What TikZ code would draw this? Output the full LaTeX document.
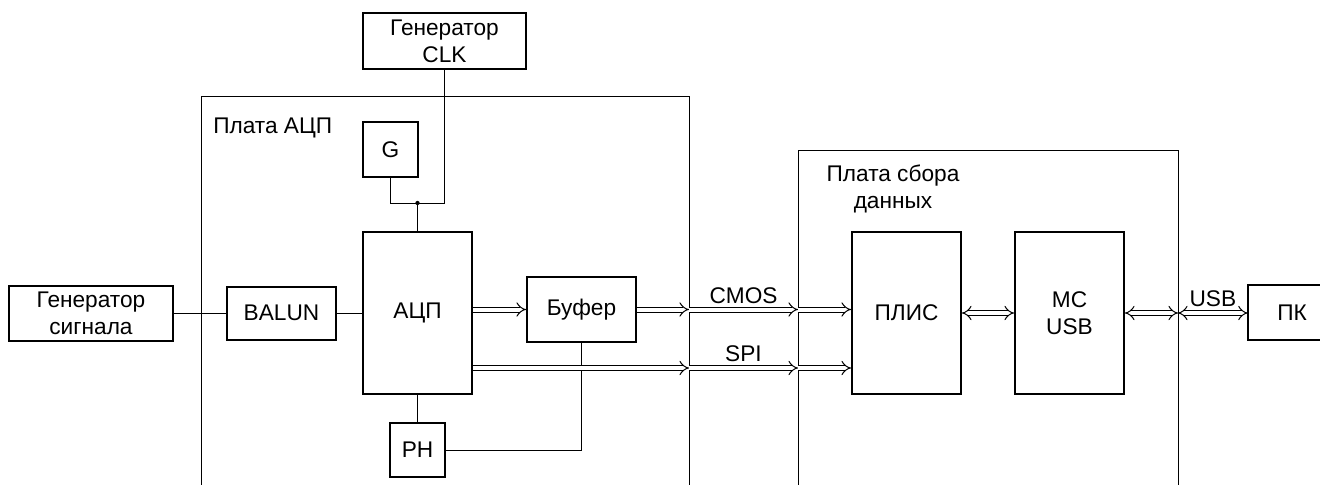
\documentclass[tikz,border=0pt]{standalone}
\usepackage{fontspec}
\setmainfont{Liberation Sans}
\usepackage{tikz}
\usetikzlibrary{arrows.meta}

\begin{document}
\begin{tikzpicture}[x=0.75pt, y=-0.75pt,
 font=\fontsize{17}{20}\selectfont,
 block/.style={draw, line width=1.5pt, align=center, inner sep=0pt,
   minimum width=81.75pt, minimum height=41.25pt},
 wire/.style={line width=0.75pt},
 bus/.style={line width=0.75pt, double, double distance=3pt, -{Implies}},
 bibus/.style={bus, {Implies}-{Implies}}]

  \useasboundingbox (0,0) rectangle (1320,485);

  % boards
  \draw[wire] (201,485) -- (201,96) -- (689,96) -- (689,485);
  \node[anchor=west, inner sep=0pt] (adcboard) at (213,128) {Плата АЦП};
  \draw[wire] (798,485) -- (798,150) -- (1178,150) -- (1178,485);
  \node[align=center, inner sep=0pt] (daqboard) at (893,189) {Плата сбора\\данных};

  \node[block, minimum width=123pt] (gensig) at (91,313) {Генератор\\сигнала};
  \node[block, minimum height=39.75pt] (balun) at (281.5,313) {BALUN};
  \node[block, minimum height=121.5pt] (adc) at (417.5,313) {АЦП};
  \node[block, minimum height=48.75pt] (buf) at (581.5,309.5) {Буфер};
  \node[block, minimum width=122.25pt, minimum height=42pt] (clk) at (444.5,41) {Генератор\\CLK};
  \node[block, minimum width=41.25pt] (g) at (390.5,149.5) {G};
  \node[block, minimum width=41.25pt, minimum height=40.5pt] (ph) at (417.5,450) {РН};
  \node[block, minimum height=121.5pt] (plis) at (906.5,313) {ПЛИС};
  \node[block, minimum height=121.5pt] (mcu) at (1069.5,313) {МС\\USB};
  \node[minimum width=66pt, minimum height=41.25pt, inner sep=0pt] (pk) at (1292,312.5) {ПК};
  \draw[line width=1.5pt] (pk.north east) -- (pk.north west) -- (pk.south west) -- (pk.south east);

  \coordinate (clkjoin) at (417.5,203);
  \coordinate (cmos1) at (689,309.5);
  \coordinate (cmos2) at (798,309.5);
  \coordinate (spi1) at (689,368);
  \coordinate (spi2) at (798,368);
  \coordinate (usb1) at (1178,313);

  \path[wire]
    (gensig) edge (balun)
    (balun) edge (adc)
    (clkjoin) edge (adc)
    (adc) edge (ph);
  \draw[wire] (clk.south) -- (clk.south |- clkjoin) -- (g.south |- clkjoin) -- (g.south);
  \fill (clkjoin) circle (1.6pt);
  \draw[wire] (buf.south) |- (ph.east);

  \path
    (adc.east |- buf) edge[bus] (buf.west)
    (buf.east) edge[bus] (cmos1)
    (cmos1) edge[bus] node[above=1pt] {CMOS} (cmos2)
    (cmos2) edge[bus] (plis.west |- cmos2)
    (adc.east |- spi1) edge[bus] (spi1)
    (spi1) edge[bus] node[above=1pt] {SPI} (spi2)
    (spi2) edge[bus] (plis.west |- spi2)
    (plis) edge[bibus] (mcu)
    (mcu) edge[bibus] (usb1)
    (usb1) edge[bibus] node[above=1pt] {USB} (pk.west |- usb1);
\end{tikzpicture}
\end{document}
